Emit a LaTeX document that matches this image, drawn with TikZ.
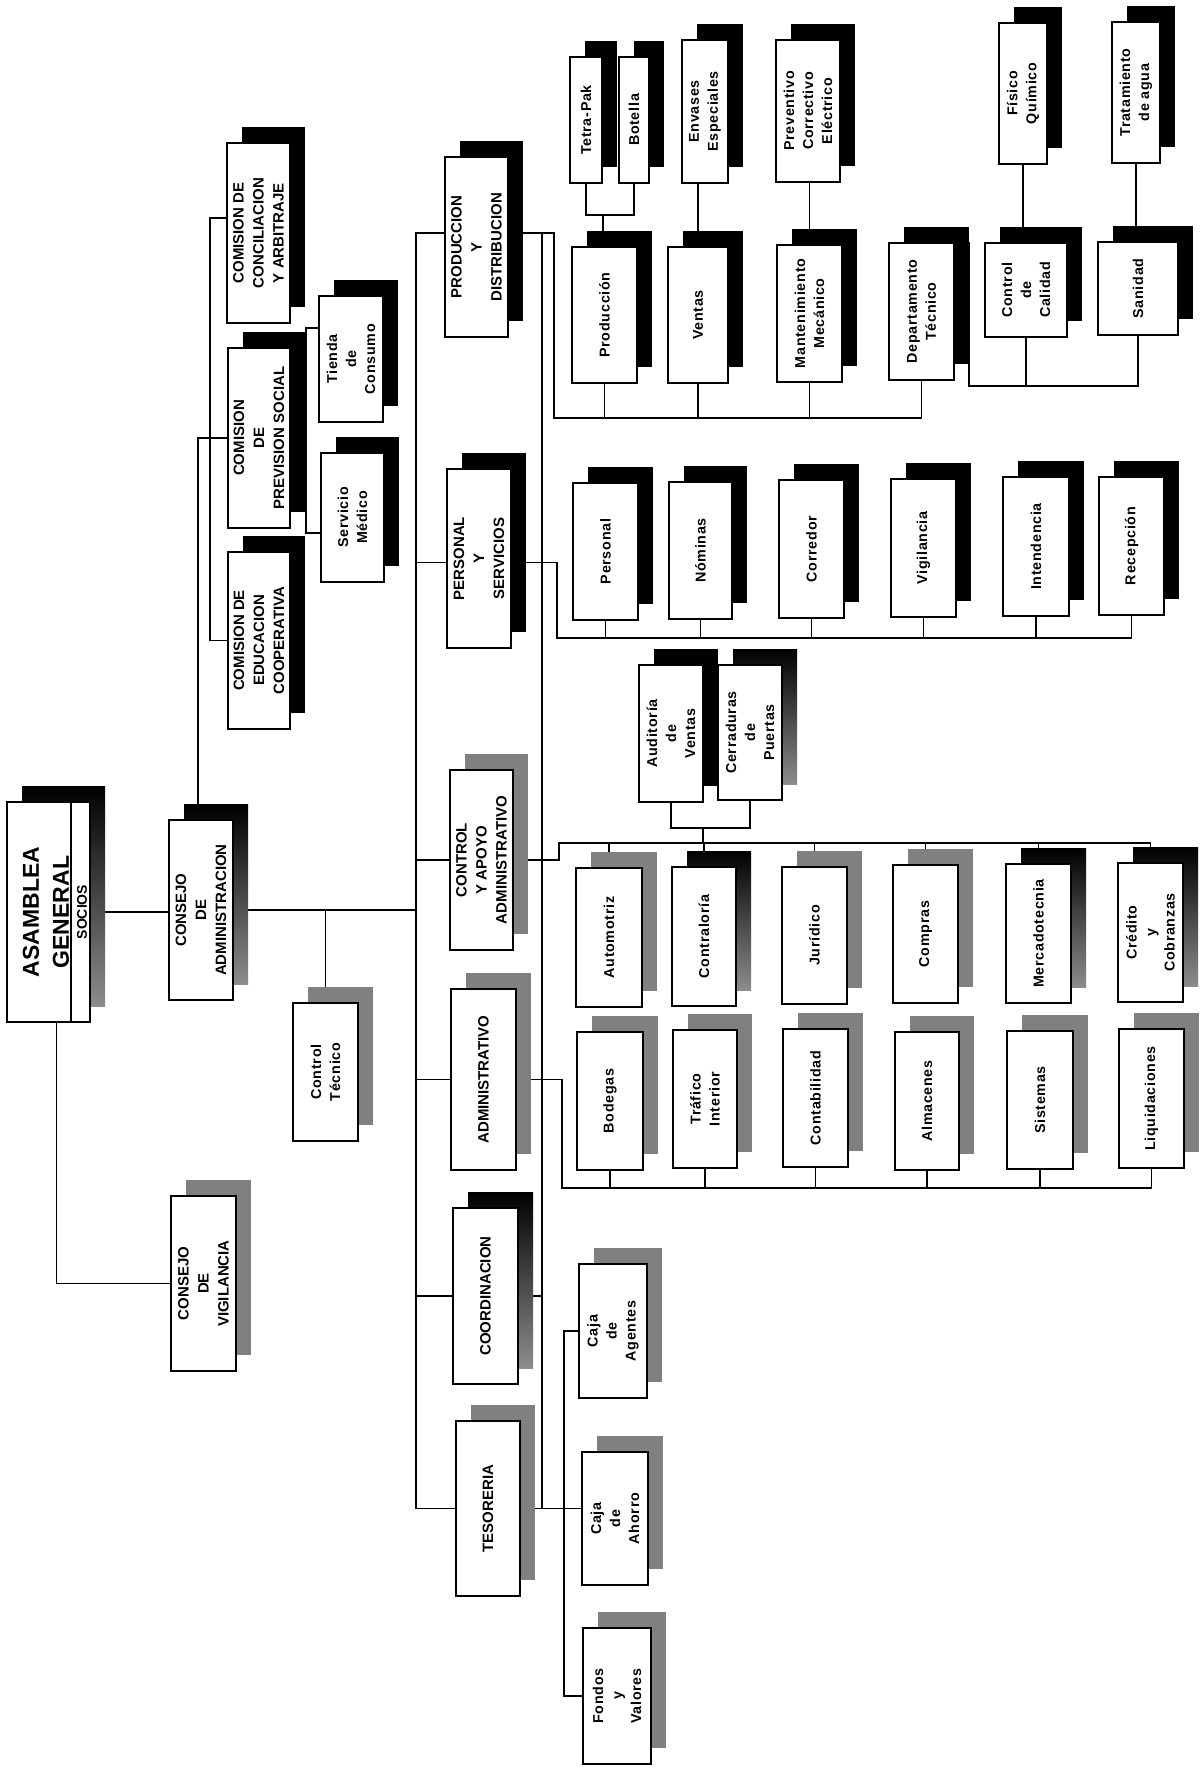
\documentclass[tikz,border=0pt]{standalone}
\usepackage{fontspec}
\setmainfont{Liberation Sans}
\newfontfamily\lblfont[LetterSpace=5]{Liberation Sans}
\pgfdeclarelayer{bg}
\pgfdeclarelayer{lines}
\pgfsetlayers{bg,lines,main}
\tikzset{
  bx/.style={draw=black, line width=1.9pt, fill=white, inner sep=0pt, rectangle},
  shk/.style={fill=black},
  shg/.style={fill=black!50},
  shm/.style={top color=black, bottom color=black!45},
  hd/.style={font={\fontsize{15}{20}\selectfont\bfseries}},
  lb/.style={font={\lblfont\fontsize{14.3}{19}\selectfont\bfseries}},
  tx/.style={rotate=90, align=center, inner sep=0pt},
  cn/.style={line width=1.6pt, line join=miter},
}
\newcommand\obx[6]{%
  \path[#6] (#2+15,#3-16) rectangle (#4+15,#5-16);
  \node[bx, minimum width={#4pt-#2pt}, minimum height={#5pt-#3pt}] (#1) at ({(#2+#4)/2},{(#3+#5)/2}) {};
}
\newcommand\otx[3]{\node[tx,#2] (#1t) at (#1.center) {#3};}
\newcommand\obox[8]{\obx{#1}{#2}{#3}{#4}{#5}{#6}\otx{#1}{#7}{#8}}
\begin{document}
\begin{tikzpicture}[x=1pt,y=-1pt]
\useasboundingbox (0,0) rectangle (1203,1786);
\begin{pgfonlayer}{bg}
\fill[white] (0,0) rectangle (1203,1786);
\end{pgfonlayer}

% ---- left part
\obx{asam}{7}{802}{90}{1022}{shm}
\draw[line width=1.9pt] ([xshift=65pt]asam.north west) -- ([xshift=65pt]asam.south west);
\node[tx, font={\fontsize{23}{30}\selectfont\bfseries}] (asamt) at (46,912) {ASAMBLEA\\GENERAL};
\node[tx, font={\fontsize{14}{16}\selectfont\bfseries}] (socios) at (82,912) {SOCIOS};
\obox{cadm}{169}{820}{233}{1000}{shm}{hd}{CONSEJO\\DE\\ADMINISTRACION}
\obox{ctec}{293}{1003}{358}{1141}{shg}{lb}{Control\\Técnico}
\obox{cvig}{171}{1196}{236}{1371}{shg}{hd}{CONSEJO\\DE\\VIGILANCIA}
\obox{conc}{227}{143}{290}{323}{shk}{hd}{COMISION DE\\CONCILIACION\\Y ARBITRAJE}
\obox{prev}{228}{348}{290}{528}{shk}{hd}{COMISION\\DE\\PREVISION SOCIAL}
\obox{educ}{228}{552}{290}{729}{shk}{hd}{COMISION DE\\EDUCACION\\COOPERATIVA}
\obox{tien}{319}{296}{383}{422}{shk}{lb}{Tienda\\de\\Consumo}
\obox{serv}{321}{453}{384}{582}{shk}{lb}{Servicio\\Médico}

% ---- main departments
\obox{pyd}{445}{157}{508}{337}{shk}{hd}{PRODUCCION\\Y\\DISTRIBUCION}
\obox{pys}{447}{469}{511}{648}{shk}{hd}{PERSONAL\\Y\\SERVICIOS}
\obox{cya}{450}{770}{513}{950}{shg}{hd}{CONTROL\\Y APOYO\\ADMINISTRATIVO}
\obox{adm}{451}{989}{516}{1170}{shg}{hd}{ADMINISTRATIVO}
\obox{coo}{453}{1208}{518}{1384}{shm}{hd}{COORDINACION}
\obox{tes}{456}{1421}{520}{1596}{shg}{hd}{TESORERIA}

% ---- produccion y distribucion
\obox{tetra}{570}{57}{602}{183}{shk}{lb}{Tetra-Pak}
\obox{bot}{619}{57}{649}{183}{shk}{lb}{Botella}
\obox{env}{682}{40}{728}{183}{shk}{lb}{Envases\\Especiales}
\obox{prevc}{776}{40}{840}{182}{shk}{lb}{Preventivo\\Correctivo\\Eléctrico}
\obox{prod}{572}{247}{637}{383}{shk}{lb}{Producción}
\obox{vent}{668}{247}{728}{383}{shk}{lb}{Ventas}
\obox{mant}{777}{245}{842}{382}{shk}{lb}{Mantenimiento\\Mecánico}
\obox{dtec}{889}{243}{954}{380}{shk}{lb}{Departamento\\Técnico}
\obox{ccal}{985}{243}{1067}{337}{shk}{lb}{Control\\de\\Calidad}
\obox{fisq}{999}{23}{1047}{164}{shk}{lb}{Físico\\Químico}
\obox{sani}{1098}{242}{1178}{335}{shk}{lb}{Sanidad}
\obox{trat}{1112}{22}{1160}{163}{shk}{lb}{Tratamiento\\de agua}

% ---- personal y servicios
\obox{pers}{573}{483}{638}{620}{shk}{lb}{Personal}
\obox{nomi}{669}{482}{732}{619}{shk}{lb}{Nóminas}
\obox{corr}{779}{480}{844}{618}{shk}{lb}{Corredor}
\obox{vigi}{891}{479}{956}{617}{shk}{lb}{Vigilancia}
\obox{inte}{1003}{477}{1069}{616}{shk}{lb}{Intendencia}
\obox{rece}{1099}{477}{1164}{615}{shk}{lb}{Recepción}

% ---- control y apoyo administrativo
\obox{audi}{639}{665}{703}{802}{shk}{lb}{Auditoría\\de\\Ventas}
\obox{cerr}{718}{665}{782}{800}{shm}{lb}{Cerraduras\\de\\Puertas}
\obox{auto}{576}{868}{642}{1007}{shg}{lb}{Automotriz}
\obox{cont}{672}{867}{736}{1006}{shm}{lb}{Contraloría}
\obox{juri}{782}{867}{847}{1004}{shg}{lb}{Jurídico}
\obox{comp}{893}{865}{958}{1003}{shg}{lb}{Compras}
\obox{merc}{1006}{864}{1071}{1003}{shm}{lb}{Mercadotecnia}
\obox{cred}{1118}{863}{1183}{1002}{shm}{lb}{Crédito\\y\\Cobranzas}

% ---- administrativo
\obox{bode}{577}{1032}{643}{1170}{shg}{lb}{Bodegas}
\obox{traf}{673}{1030}{737}{1168}{shg}{lb}{Tráfico\\Interior}
\obox{ctab}{783}{1029}{848}{1167}{shg}{lb}{Contabilidad}
\obox{alma}{895}{1032}{959}{1170}{shg}{lb}{Almacenes}
\obox{sist}{1007}{1031}{1073}{1169}{shg}{lb}{Sistemas}
\obox{liqu}{1119}{1029}{1184}{1168}{shg}{lb}{Liquidaciones}

% ---- tesoreria
\obox{cage}{579}{1264}{647}{1398}{shg}{lb}{Caja\\de\\Agentes}
\obox{caho}{582}{1452}{648}{1585}{shg}{lb}{Caja\\de\\Ahorro}
\obox{fond}{583}{1628}{651}{1764}{shg}{lb}{Fondos\\y\\Valores}

% ---- connectors
\begin{pgfonlayer}{lines}
\coordinate (tk) at (416,0);
\coordinate (l2) at (542,0);
\coordinate (cv) at (210,0);
\coordinate (tv) at (564,0);
% asamblea / consejos
\draw[cn] (asam.east) -- (asam.east -| cadm.west);
\draw[cn] ([xshift=8pt]asam.south) |- (cvig.west);
\draw[cn] (cadm.east) -- (cadm.east -| tk);
\draw[cn] (ctec.north) -- (ctec.north |- cadm.east);
\draw[cn] ([xshift=-3pt]cadm.north) |- (prev.west);
% comisiones
\coordinate (concl) at ([yshift=15pt]conc.west);
\draw[cn] (concl) -- (concl -| cv) -- (educ.west -| cv) -- (educ.west);
\coordinate (ps1) at (306,328);
\coordinate (ps2) at (306,533);
\draw[cn] (tien.west |- ps1) -- (ps1) -- (ps2) -- (serv.west |- ps2);
% trunk
\coordinate (pydl) at ([yshift=14pt]pyd.west);
\coordinate (pysl) at ([yshift=-4pt]pys.west);
\draw[cn] (pydl) -- (pydl -| tk) -- (tes.west -| tk) -- (tes.west);
\draw[cn] (pysl) -- (pysl -| tk);
\draw[cn] (cya.west) -- (cya.west -| tk);
\draw[cn] (adm.west) -- (adm.west -| tk);
\draw[cn] (coo.west) -- (coo.west -| tk);
% produccion y distribucion
\coordinate (pydr) at ([yshift=14pt]pyd.east);
\coordinate (pydb) at (554,418);
\draw[cn] (pydr) -- (pydr -| pydb) -- (pydb) -- (dtec.south |- pydb) -- (dtec.south);
\draw[cn] (pydr -| l2) -- (tes.east -| l2);
\foreach \n in {prod,vent,mant} \draw[cn] (\n.south) -- (\n.south |- pydb);
\coordinate (tb) at (603,215);
\draw[cn] (tetra.south) -- (tetra.south |- tb) -- (bot.south |- tb) -- (bot.south);
\draw[cn] (tb) -- (tb |- prod.north);
\draw[cn] (vent.north |- env.south) -- (vent.north);
\draw[cn] (mant.north |- prevc.south) -- (mant.north);
\coordinate (dq) at (969,386);
\draw[cn] (dq |- dtec.north) -- (dq) -- (dq -| sani.south) -- (sani.south);
\draw[cn] (ccal.south) -- (ccal.south |- dq);
\draw[cn] (fisq.south) -- (fisq.south |- ccal.north);
\draw[cn] (trat.south) -- (trat.south |- sani.north);
% personal y servicios
\coordinate (pysr) at ([yshift=-4pt]pys.east);
\coordinate (pysb) at (557,638);
\draw[cn] (pysr) -- (pysr -| pysb) -- (pysb) -- (rece.south |- pysb) -- (rece.south);
\foreach \n in {pers,nomi,corr,vigi,inte} \draw[cn] (\n.south) -- (\n.south |- pysb);
% control y apoyo
\coordinate (cyab) at (559,843);
\draw[cn] (cya.east) -- (cya.east -| cyab) -- (cyab) -- (cred.north |- cyab) -- (cred.north);
\foreach \n in {auto,cont,juri,comp,merc} \draw[cn] (\n.north) -- (\n.north |- cyab);
\coordinate (aj) at (703,828);
\draw[cn] (audi.south) -- (audi.south |- aj) -- (cerr.south |- aj) -- (cerr.south);
\draw[cn] (aj) -- (aj |- cyab);
% administrativo
\coordinate (admb) at (562,1188);
\draw[cn] (adm.east) -- (adm.east -| admb) -- (admb) -- (liqu.south |- admb) -- (liqu.south);
\foreach \n in {bode,traf,ctab,alma,sist} \draw[cn] (\n.south) -- (\n.south |- admb);
% coordinacion / tesoreria
\draw[cn] (coo.east) -- (coo.east -| l2);
\draw[cn] (tes.east) -- (tes.east -| caho.west);
\draw[cn] (cage.west) -- (cage.west -| tv) -- (fond.west -| tv) -- (fond.west);
\end{pgfonlayer}
\end{tikzpicture}
\end{document}
